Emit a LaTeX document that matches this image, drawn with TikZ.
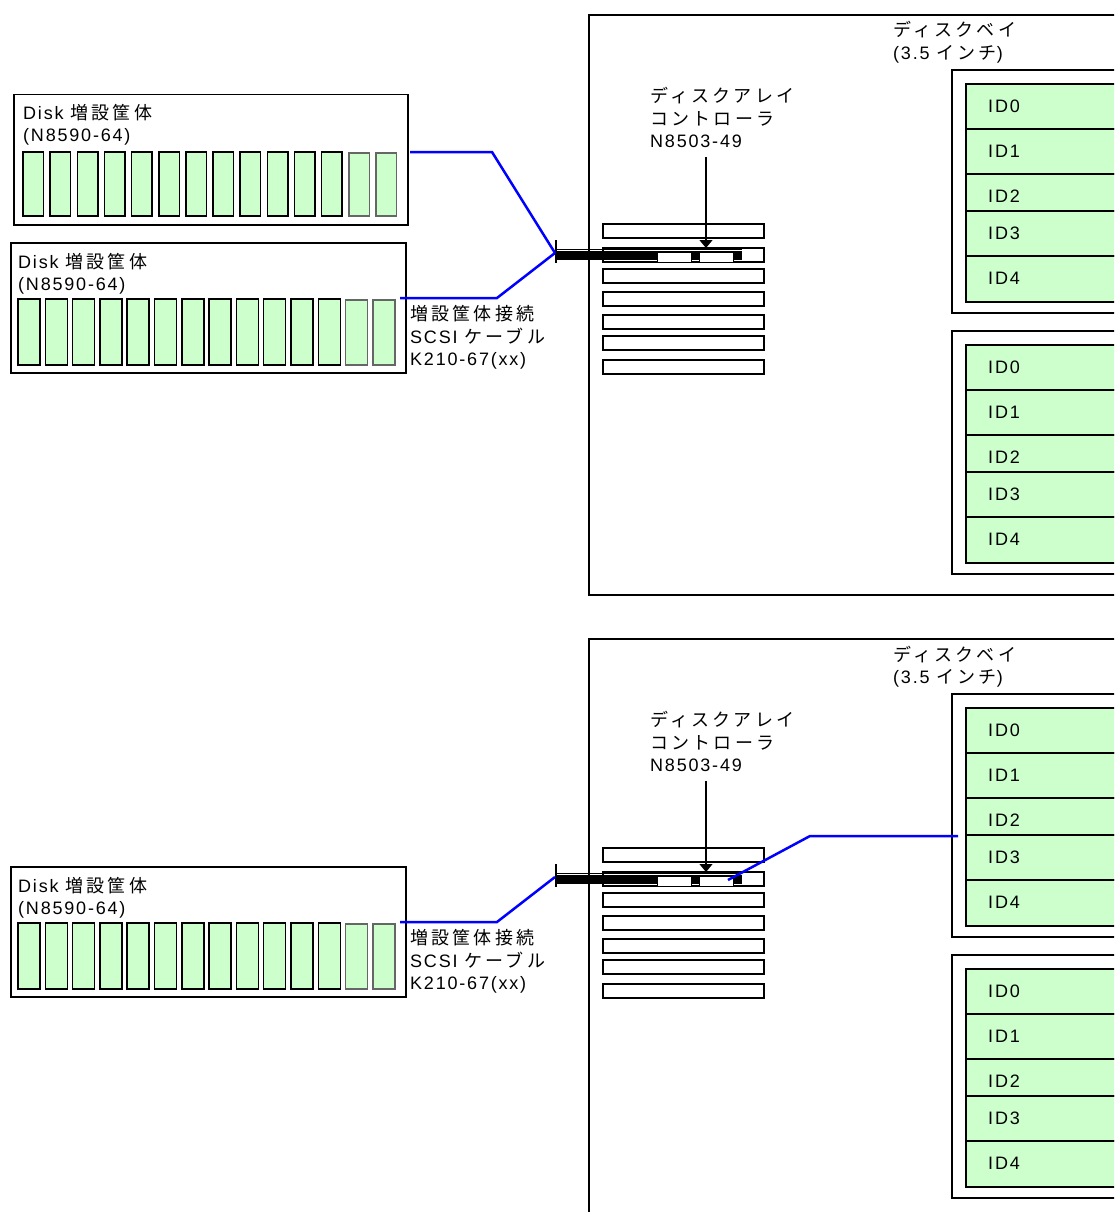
\documentclass[tikz,border=0pt]{standalone}
\usepackage{fontspec}
\setmainfont{Liberation Sans}[LetterSpace=10]
\newfontfamily\jp{Noto Sans CJK JP}[LetterSpace=18]
\usepackage{tikz}
\usetikzlibrary{arrows.meta}
\definecolor{hddgreen}{RGB}{204,255,204}
\definecolor{cableblue}{RGB}{0,0,255}

\begin{document}
\begin{tikzpicture}[x=1pt,y=-1pt,
    frame/.style={draw,line width=1.5pt,inner sep=0pt},
    drive/.style={draw,line width=1.5pt,fill=hddgreen},
    slot/.style={draw,line width=1.5pt,fill=white},
    cable/.style={draw=cableblue,line width=2.5pt},
    pointer/.style={-{Triangle[width=13pt,length=8pt]},line width=1.2pt},
    lbl/.style={anchor=base west,inner sep=0pt,align=left,font=\fontsize{18}{22.5}\selectfont},
    plug/.style={draw,fill=white,line width=1pt,minimum width=34pt,minimum height=10pt,inner sep=0pt}]
  \useasboundingbox (0,0) rectangle (1114,1212);
  \clip (0,0) rectangle (1114,1212);

  % server, disk bays and controller (upper and lower system)
  \foreach \h/\dy in {t/0,b/624} {
    \draw[line width=1.5pt] (589,15+\dy) rectangle (1140,595+\dy);
    \node[lbl] (bay-\h) at (893,59.5+\dy) {{\jp ディスクベイ}\\(3.5 {\jp インチ})};
    \foreach \k/\by in {1/0,2/261} {
      \draw[line width=1.5pt] (952,70+\by+\dy) rectangle (1140,313+\by+\dy);
      \foreach \top/\bot/\n in {84/129/0,129/174/1,174/211/2,211/256/3,256/302/4} {
        \draw[drive] (966,\top+\by+\dy) rectangle (1140,\bot+\by+\dy);
        \node[lbl] (id\n-\k-\h) at (988,\top+28.5+\by+\dy) {ID\n};
      }
    }
    \node[lbl] (ctl-\h) at (650,147.5+\dy) {{\jp ディスクアレイ}\\{\jp コントローラ}\\N8503-49};
    \foreach \sy in {224,248,269,292,315,336,360}
      \draw[slot] (603,\sy+\dy) rectangle ++(161,14);
    % controller card
    \fill (556,251+\dy) rectangle (742,260+\dy);
    \draw[line width=1pt] (556,249+\dy) -- (742,249+\dy);
    \node[plug] (cnA-\h) at (674,257+\dy) {};
    \node[plug] (cnB-\h) at (716,257+\dy) {};
    \draw[line width=2pt] (556,240+\dy) -- (556,263+\dy);
    \coordinate (plug-\h) at (555,253+\dy);
    \coordinate (card-\h) at (706,248+\dy);
    \draw[pointer] ([yshift=-9pt]ctl-\h.south -| card-\h) -- (card-\h);

    % expansion enclosure
    \node[frame,anchor=north west,minimum width=395pt,minimum height=130pt] (encB-\h) at (10,242+\dy) {};
    \node[lbl] (encB-lbl-\h) at (18,290.5+\dy) {Disk {\jp 増設筐体}\\(N8590-64)};
    \foreach \i in {0,...,11}
      \draw[drive] (18+27.3*\i,299+\dy) rectangle ++(22,66);
    \foreach \i in {12,13}
      \draw[drive,draw=black!60] (18+27.3*\i,300+\dy) rectangle ++(22,65);
    \coordinate (encB-port-\h) at (400,298+\dy);
    \node[lbl] (cbl-\h) at (410,365.5+\dy) {{\jp 増設筐体接続}\\SCSI {\jp ケーブル}\\K210-67(xx)};
  }

  % second enclosure of the upper system
  \node[frame,anchor=north west,minimum width=394pt,minimum height=130pt] (encA) at (13,94) {};
  \node[lbl] (encA-lbl) at (23,142) {Disk {\jp 増設筐体}\\(N8590-64)};
  \foreach \i in {0,...,11}
    \draw[drive] (23+27.15*\i,152) rectangle ++(20.5,64);
  \foreach \i in {12,13}
    \draw[drive,draw=black!60] (23+27.15*\i,153) rectangle ++(20.5,63);
  \coordinate (encA-port) at (410,152);
  \coordinate (bay-in) at (958,836);

  % cables
  \draw[cable] (encA-port) -- ++(82,0) -- (plug-t);
  \draw[cable] (encB-port-t) -- ++(97,0) -- (plug-t);
  \draw[cable] (encB-port-b) -- ++(97,0) -- (plug-b);
  \draw[cable] ([xshift=12pt,yshift=1pt]cnB-b.center) -- (810,836) -- (bay-in);
\end{tikzpicture}
\end{document}
